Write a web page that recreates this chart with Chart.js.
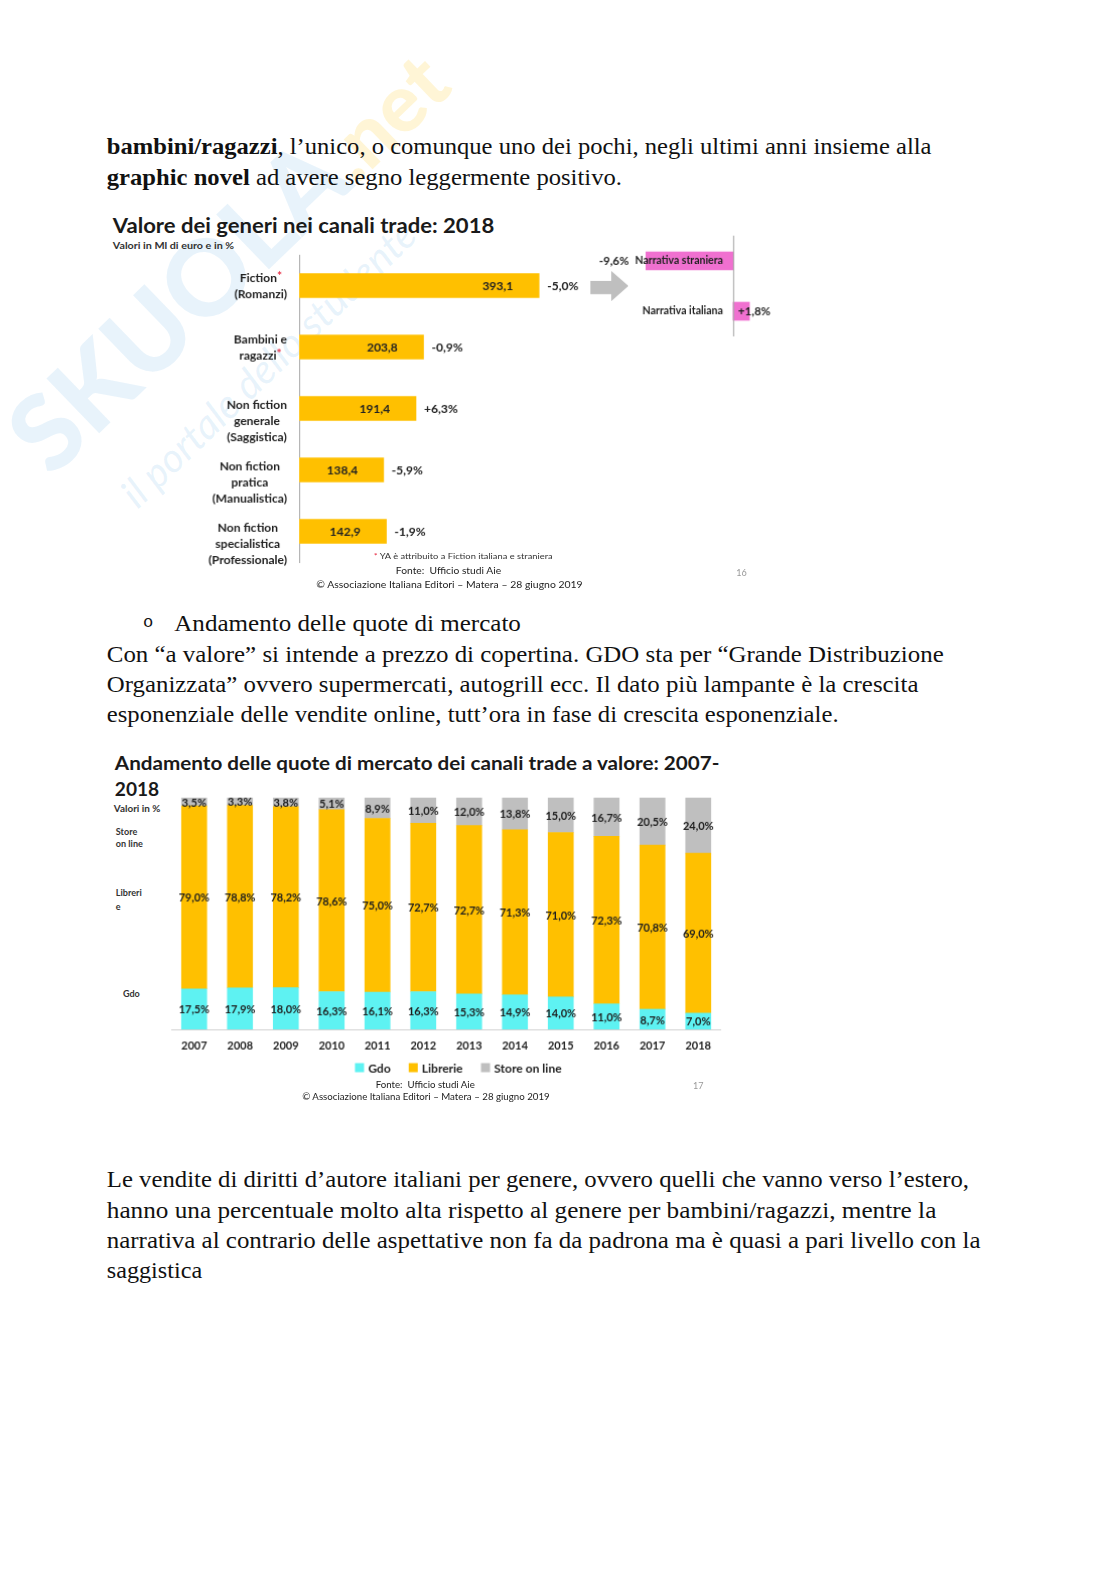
<!DOCTYPE html>
<html>
<head>
<meta charset="utf-8">
<script src="https://cdn.jsdelivr.net/npm/chart.js@4/dist/chart.umd.min.js"></script>
<style>
  html, body { margin: 0; padding: 0; background: #fff; overflow: hidden; width: 1116px; height: 1578px; }
  #page { position: relative; width: 1116px; height: 1578px; overflow: hidden; background: #fff; transform: scale(1.0072); transform-origin: 0 0; }
  .t { position: absolute; white-space: nowrap; transform-origin: 0 50%; }
  .body { font-family: "Liberation Serif", serif; font-size: 22.5px; line-height: 30px; color: #111; }
  .s { font-family: Lato, sans-serif; font-weight: bold; color: #222; }
  .wm { position: absolute; white-space: nowrap; line-height: 1; transform-origin: 0 100%; font-family: Lato, sans-serif; }
  canvas { position: absolute; }
</style>
</head>
<body>
<div id="page">
  <!-- watermark -->
  <div class="wm" style="left:60px;top:380px;transform:rotate(-44deg);">
    <span style="font-size:104px;font-weight:900;color:rgba(110,180,230,0.16);">SKUOLA</span><span style="font-size:80px;font-weight:900;color:rgba(255,205,50,0.2);">.net</span>
  </div>
  <div class="wm" style="left:140px;top:470px;font-size:40px;font-style:italic;color:rgba(110,180,230,0.16);transform:rotate(-44deg);">il portale dello studente</div>

  <!-- text before chart 1 -->
  <div class="t body" style="left:106px;top:131px;" data-w="819"><b>bambini/ragazzi</b>, l’unico, o comunque uno dei pochi, negli ultimi anni insieme alla</div>
  <div class="t body" style="left:106px;top:162px;" data-w="512"><b>graphic novel</b> ad avere segno leggermente positivo.</div>

  <!-- chart 1 titles -->
  <div class="t s" style="left:112px;top:210px;font-size:21px;line-height:26px;color:#1a1a1a;" data-w="379">Valore dei generi nei canali trade: 2018</div>
  <div class="t s" style="left:112px;top:238px;font-size:9.5px;line-height:12px;color:#333;" data-w="120">Valori in Ml di euro e in %</div>

  <canvas id="c1" width="500" height="317" style="left:100px;top:253px;"></canvas>
  <canvas id="c1b" width="220" height="100" style="left:580px;top:234px;"></canvas>
  <div id="arrow" style="position:absolute;left:586px;top:269px;width:38px;height:30px;background:#BFBFBF;clip-path:polygon(0 33%,55% 33%,55% 0,100% 50%,55% 100%,55% 77%,0 77%);"></div>

  <div class="t s" style="left:371px;top:547px;font-size:8px;line-height:10px;font-weight:normal;color:#333;" data-w="178"><span style="color:#E8334A">*</span> YA è attribuito a Fiction italiana e straniera</div>
  <div class="t s" style="left:393px;top:560px;font-size:10px;line-height:12px;font-weight:normal;color:#222;" data-w="105">Fonte:&nbsp;&nbsp;Ufficio studi Aie</div>
  <div class="t s" style="left:314px;top:574px;font-size:10px;line-height:12px;font-weight:normal;color:#222;" data-w="264">© Associazione Italiana Editori – Matera – 28 giugno 2019</div>
  <div class="t s" style="left:731px;top:563px;font-size:9px;line-height:12px;font-weight:normal;color:#999;">16</div>

  <!-- text between charts -->
  <div class="t" style="left:142px;top:605px;font-family:'Liberation Mono',monospace;font-size:17px;line-height:28px;color:#111;">o</div>
  <div class="t body" style="left:173px;top:604px;" data-w="344">Andamento delle quote di mercato</div>
  <div class="t body" style="left:106px;top:635px;" data-w="831">Con “a valore” si intende a prezzo di copertina. GDO sta per “Grande Distribuzione</div>
  <div class="t body" style="left:106px;top:665px;" data-w="806">Organizzata” ovvero supermercati, autogrill ecc. Il dato più lampante è la crescita</div>
  <div class="t body" style="left:106px;top:695px;" data-w="727">esponenziale delle vendite online, tutt’ora in fase di crescita esponenziale.</div>

  <!-- chart 2 titles -->
  <div class="t s" style="left:114px;top:745px;font-size:19px;line-height:24px;color:#1a1a1a;" data-w="600">Andamento delle quote di mercato dei canali trade a valore: 2007-</div>
  <div class="t s" style="left:114px;top:771px;font-size:19px;line-height:24px;color:#1a1a1a;" data-w="44">2018</div>
  <div class="t s" style="left:113px;top:797px;font-size:9px;line-height:12px;color:#333;" data-w="46">Valori in %</div>
  <div class="t s" style="left:115px;top:820px;font-size:9px;line-height:12px;color:#333;">Store</div>
  <div class="t s" style="left:115px;top:832px;font-size:9px;line-height:12px;color:#333;">on line</div>
  <div class="t s" style="left:115px;top:881px;font-size:9px;line-height:12px;color:#333;">Libreri</div>
  <div class="t s" style="left:115px;top:894px;font-size:9px;line-height:12px;color:#333;">e</div>
  <div class="t s" style="left:122px;top:981px;font-size:9px;line-height:12px;color:#333;">Gdo</div>

  <canvas id="c2" width="546" height="290" style="left:170px;top:792px;"></canvas>

  <div class="t s" style="left:373px;top:1071px;font-size:9.5px;line-height:12px;font-weight:normal;color:#222;" data-w="98">Fonte:&nbsp;&nbsp;Ufficio studi Aie</div>
  <div class="t s" style="left:300px;top:1083px;font-size:9.5px;line-height:12px;font-weight:normal;color:#222;" data-w="246">© Associazione Italiana Editori – Matera – 28 giugno 2019</div>
  <div class="t s" style="left:688px;top:1072px;font-size:9px;line-height:12px;font-weight:normal;color:#999;">17</div>

  <!-- text after chart 2 -->
  <div class="t body" style="left:106px;top:1157px;" data-w="856">Le vendite di diritti d’autore italiani per genere, ovvero quelli che vanno verso l’estero,</div>
  <div class="t body" style="left:106px;top:1187px;" data-w="824">hanno una percentuale molto alta rispetto al genere per bambini/ragazzi, mentre la</div>
  <div class="t body" style="left:106px;top:1217px;" data-w="867">narrativa al contrario delle aspettative non fa da padrona ma è quasi a pari livello con la</div>
  <div class="t body" style="left:106px;top:1247px;" data-w="95">saggistica</div>
</div>

<script>
// Valore dei generi (Ml di euro) 2018
const genreLabels = [
  ["Fiction*", "(Romanzi)"],
  ["Bambini e", "ragazzi*"],
  ["Non fiction", "generale", "(Saggistica)"],
  ["Non fiction", "pratica", "(Manualistica)"],
  ["Non fiction", "specialistica", "(Professionale)"]
];
const genreValues = [393.1, 203.8, 191.4, 138.4, 142.9];
const genreChange = ["-5,0%", "-0,9%", "+6,3%", "-5,9%", "-1,9%"];

// fiction split
const narrLabels = ["Narrativa straniera", "Narrativa italiana"];
const narrValues = [-9.6, 1.8];
const narrChange = ["-9,6%", "+1,8%"];

// quote di mercato 2007-2018
const years = ["2007", "2008", "2009", "2010", "2011", "2012", "2013", "2014", "2015", "2016", "2017", "2018"];
const gdo = [17.5, 17.9, 18.0, 16.3, 16.1, 16.3, 15.3, 14.9, 14.0, 11.0, 8.7, 7.0];
const librerie = [79.0, 78.8, 78.2, 78.6, 75.0, 72.7, 72.7, 71.3, 71.0, 72.3, 70.8, 69.0];
const store = [3.5, 3.3, 3.8, 5.1, 8.9, 11.0, 12.0, 13.8, 15.0, 16.7, 20.5, 24.0];

const FONT = "Lato, sans-serif";
const fmt = (v) => v.toFixed(1).replace(".", ",");

// fit text lines to the widths measured on the picture (page is scaled, so use offsetWidth)
document.fonts.ready.then(() => {
  document.querySelectorAll("[data-w]").forEach((el) => {
    const w = el.offsetWidth;
    el.style.transform = "scaleX(" + (+el.dataset.w / w) + ")";
  });
});

const genreText = {
  id: "genreText",
  afterDatasetsDraw(chart) {
    const ctx = chart.ctx;
    const yScale = chart.scales.y;
    const meta = chart.getDatasetMeta(0);
    ctx.save();
    ctx.textBaseline = "middle";
    ctx.fillStyle = "#222";
    meta.data.forEach((bar, i) => {
      ctx.font = "bold 12px " + FONT;
      ctx.textAlign = "center";
      ctx.fillText(fmt(genreValues[i]), bar.x - 41, bar.y + 1);
      ctx.textAlign = "left";
      ctx.fillText(genreChange[i], bar.x + 8, bar.y + 1);

      // category label, several lines
      const lines = genreLabels[i];
      const widest = Math.max(...lines.map((l) => ctx.measureText(l).width));
      const cx = yScale.right - 12 - widest / 2;
      lines.forEach((ln, j) => {
        const y = bar.y - 7 + (lines.length - 2) * 4 + j * 16;
        const w = ctx.measureText(ln).width;
        ctx.textAlign = "left";
        if (ln.endsWith("*")) {
          const base = ln.slice(0, -1);
          const bw = ctx.measureText(base).width;
          ctx.fillStyle = "#222";
          ctx.fillText(base, cx - w / 2, y);
          ctx.fillStyle = "#E8334A";
          ctx.fillText("*", cx - w / 2 + bw, y - 2);
          ctx.fillStyle = "#222";
        } else {
          ctx.fillText(ln, cx - w / 2, y);
        }
      });
    });
    ctx.restore();
  }
};

new Chart(document.getElementById("c1"), {
  type: "bar",
  data: {
    labels: genreLabels.map((l) => l.join(" ")),
    datasets: [
      {
        data: genreValues,
        backgroundColor: "#FFC000",
        barThickness: 24,
      },
    ],
  },
  options: {
    indexAxis: "y",
    responsive: false,
    maintainAspectRatio: false,
    animation: false,
    layout: { padding: { bottom: 12 } },
    plugins: { legend: { display: false }, tooltip: { enabled: false } },
    scales: {
      x: { display: false, min: 0, max: 500 },
      y: {
        ticks: { display: false },
        grid: { display: false, drawTicks: false },
        border: { color: "#A6A6A6", width: 1 },
        afterFit: (s) => { s.width = 197; },
      },
    },
  },
  plugins: [genreText],
});

const narrText = {
  id: "narrText",
  afterDatasetsDraw(chart) {
    const ctx = chart.ctx;
    const x0 = chart.scales.x.getPixelForValue(0);
    const area = chart.chartArea;
    ctx.save();
    ctx.strokeStyle = "#A6A6A6";
    ctx.lineWidth = 1;
    ctx.beginPath();
    ctx.moveTo(x0 + 0.5, area.top);
    ctx.lineTo(x0 + 0.5, area.bottom);
    ctx.stroke();
    ctx.textBaseline = "middle";
    ctx.fillStyle = "#222";
    chart.getDatasetMeta(0).data.forEach((bar, i) => {
      ctx.font = "bold 10.5px " + FONT;
      ctx.textAlign = "right";
      ctx.fillText(narrLabels[i], x0 - 10, bar.y);
      const nw = ctx.measureText(narrLabels[i]).width;
      ctx.font = "bold 11.5px " + FONT;
      if (narrValues[i] < 0) {
        ctx.textAlign = "right";
        ctx.fillText(narrChange[i], Math.min(bar.x, x0 - 10 - nw) - 6, bar.y);
      } else {
        ctx.textAlign = "left";
        ctx.fillText(narrChange[i], x0 + 5, bar.y);
      }
    });
    ctx.restore();
  }
};

new Chart(document.getElementById("c1b"), {
  type: "bar",
  data: {
    labels: narrLabels,
    datasets: [{ data: narrValues, backgroundColor: "#F070D0", barThickness: 18 }],
  },
  options: {
    indexAxis: "y",
    responsive: false,
    maintainAspectRatio: false,
    animation: false,
    layout: { padding: 0 },
    plugins: { legend: { display: false }, tooltip: { enabled: false } },
    scales: {
      x: { display: false, min: -16.4, max: 8 },
      y: { display: false },
    },
  },
  plugins: [narrText],
});

// segment labels + legend row under the year axis
const segText = {
  id: "segText",
  afterDatasetsDraw(chart) {
    const ctx = chart.ctx;
    ctx.save();
    ctx.font = "bold 11px " + FONT;
    ctx.textAlign = "center";
    ctx.textBaseline = "middle";
    ctx.fillStyle = "#1e1e1e";
    chart.data.datasets.forEach((ds, di) => {
      chart.getDatasetMeta(di).data.forEach((bar, i) => {
        ctx.fillText(fmt(ds.data[i]) + "%", bar.x, (bar.y + bar.base) / 2 + 1);
      });
    });

    // legend
    ctx.font = "bold 12px " + FONT;
    ctx.textAlign = "left";
    const items = chart.data.datasets.map((ds) => ({ text: ds.label, color: ds.backgroundColor, w: ctx.measureText(ds.label).width }));
    const box = 9, gap = 4, sep = 18;
    const total = items.reduce((a, it) => a + box + gap + it.w, 0) + sep * (items.length - 1);
    let x = 285 - total / 2;
    const y = chart.chartArea.bottom + 38;
    items.forEach((it) => {
      ctx.fillStyle = it.color;
      ctx.fillRect(x, y - box / 2, box, box);
      ctx.fillStyle = "#222";
      ctx.fillText(it.text, x + box + gap, y + 1);
      x += box + gap + it.w + sep;
    });
    ctx.restore();
  }
};

new Chart(document.getElementById("c2"), {
  type: "bar",
  data: {
    labels: years,
    datasets: [
      { label: "Gdo", data: gdo, backgroundColor: "#5EF2F2" },
      { label: "Librerie", data: librerie, backgroundColor: "#FFC000" },
      { label: "Store on line", data: store, backgroundColor: "#BFBFBF" },
    ],
  },
  options: {
    responsive: false,
    maintainAspectRatio: false,
    animation: false,
    layout: { padding: 0 },
    datasets: { bar: { barThickness: 25 } },
    plugins: {
      tooltip: { enabled: false },
      legend: { display: false },
    },
    scales: {
      x: {
        stacked: true,
        grid: { display: false, drawTicks: false },
        border: { color: "#D0D0D0" },
        ticks: { color: "#222", padding: 10, font: { family: FONT, weight: "bold", size: 11 } },
        afterFit: (s) => { s.height = 60; },
      },
      y: { stacked: true, display: false, min: 0, max: 100 },
    },
  },
  plugins: [segText],
});
</script>
</body>
</html>
